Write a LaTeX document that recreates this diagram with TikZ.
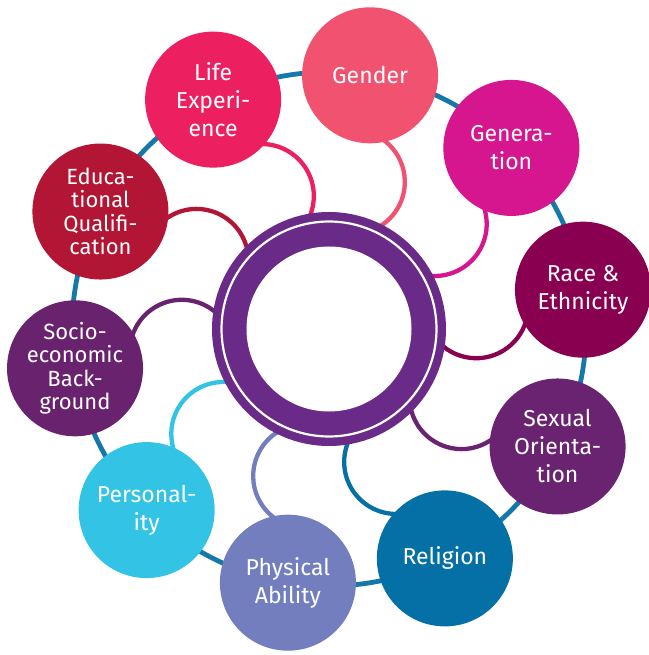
\documentclass[tikz,border=0pt]{standalone}
\usepackage{fontspec}
\setmainfont{Fira Sans}
\definecolor{genderC}{HTML}{F05270}
\definecolor{lifeC}{HTML}{EC2060}
\definecolor{generationC}{HTML}{D6168E}
\definecolor{raceC}{HTML}{8A0050}
\definecolor{sexualC}{HTML}{6A2370}
\definecolor{religionC}{HTML}{0570A6}
\definecolor{physicalC}{HTML}{727EBE}
\definecolor{personalityC}{HTML}{32C3E5}
\definecolor{socioC}{HTML}{69226E}
\definecolor{eduC}{HTML}{B31535}
\definecolor{hubC}{HTML}{6A2A87}
\definecolor{loopC}{HTML}{1578A8}
\begin{document}
\begin{tikzpicture}[x=1pt,y=1pt,
  topic/.style={circle, minimum size=136pt, inner sep=0pt, align=center, text=white,
    font=\fontsize{23}{28}\selectfont},
  dense/.style={font=\fontsize{22}{23.3}\selectfont},
  link/.style={line width=4.3pt},
  loopline/.style={draw=loopC, line width=4.8pt}]
\useasboundingbox (-329,-326) rectangle (319,329);
\coordinate (O) at (0,0);
% outer loop through the topic circles
\draw[loopline] (O) circle[radius=257];
% curved connectors from hub to each topic
\foreach \ang/\col/\nm in {8.8/raceC/race, 44.8/generationC/generation, 80.8/genderC/gender,
    116.8/lifeC/life, 152.8/eduC/edu, 188.8/socioC/socio, 224.8/personalityC/personality,
    260.8/physicalC/physical, 296.8/religionC/religion, 332.8/sexualC/sexual}{
  \coordinate (k-\nm) at (\ang:149);
  \draw[link, draw=\col] (k-\nm) ++(\ang+10:52) arc[start angle=\ang+10, end angle=\ang-190, radius=52];
}
% topic circles
\node[topic, fill=raceC] (race) at (8.8:257) {Race \&\\Ethnicity};
\node[topic, fill=generationC] (generation) at (44.8:257) {Genera-\\tion};
\node[topic, fill=genderC] (gender) at (80.8:257) {Gender};
\node[topic, fill=lifeC] (life) at (116.8:257) {Life\\Experi-\\ence};
\node[topic, dense, fill=eduC] (edu) at (152.8:257) {Educa-\\tional\\Qualifi-\\cation};
\node[topic, dense, fill=socioC] (socio) at (188.8:257) {Socio-\\economic\\Back-\\ground};
\node[topic, fill=personalityC] (personality) at (224.8:257) {Personal-\\ity};
\node[topic, fill=physicalC] (physical) at (260.8:257) {Physical\\Ability};
\node[topic, fill=religionC] (religion) at (296.8:257) {Religion};
\node[topic, fill=sexualC] (sexual) at (332.8:257) {Sexual\\Orienta-\\tion};
% central hub ring
\node[circle, minimum size=234pt, inner sep=0pt, fill=hubC] (hub) at (O) {};
\draw[white, line width=2.2pt] (O) circle[radius=107.5];
\fill[white] (O) circle[radius=82.5];
\end{tikzpicture}
\end{document}
